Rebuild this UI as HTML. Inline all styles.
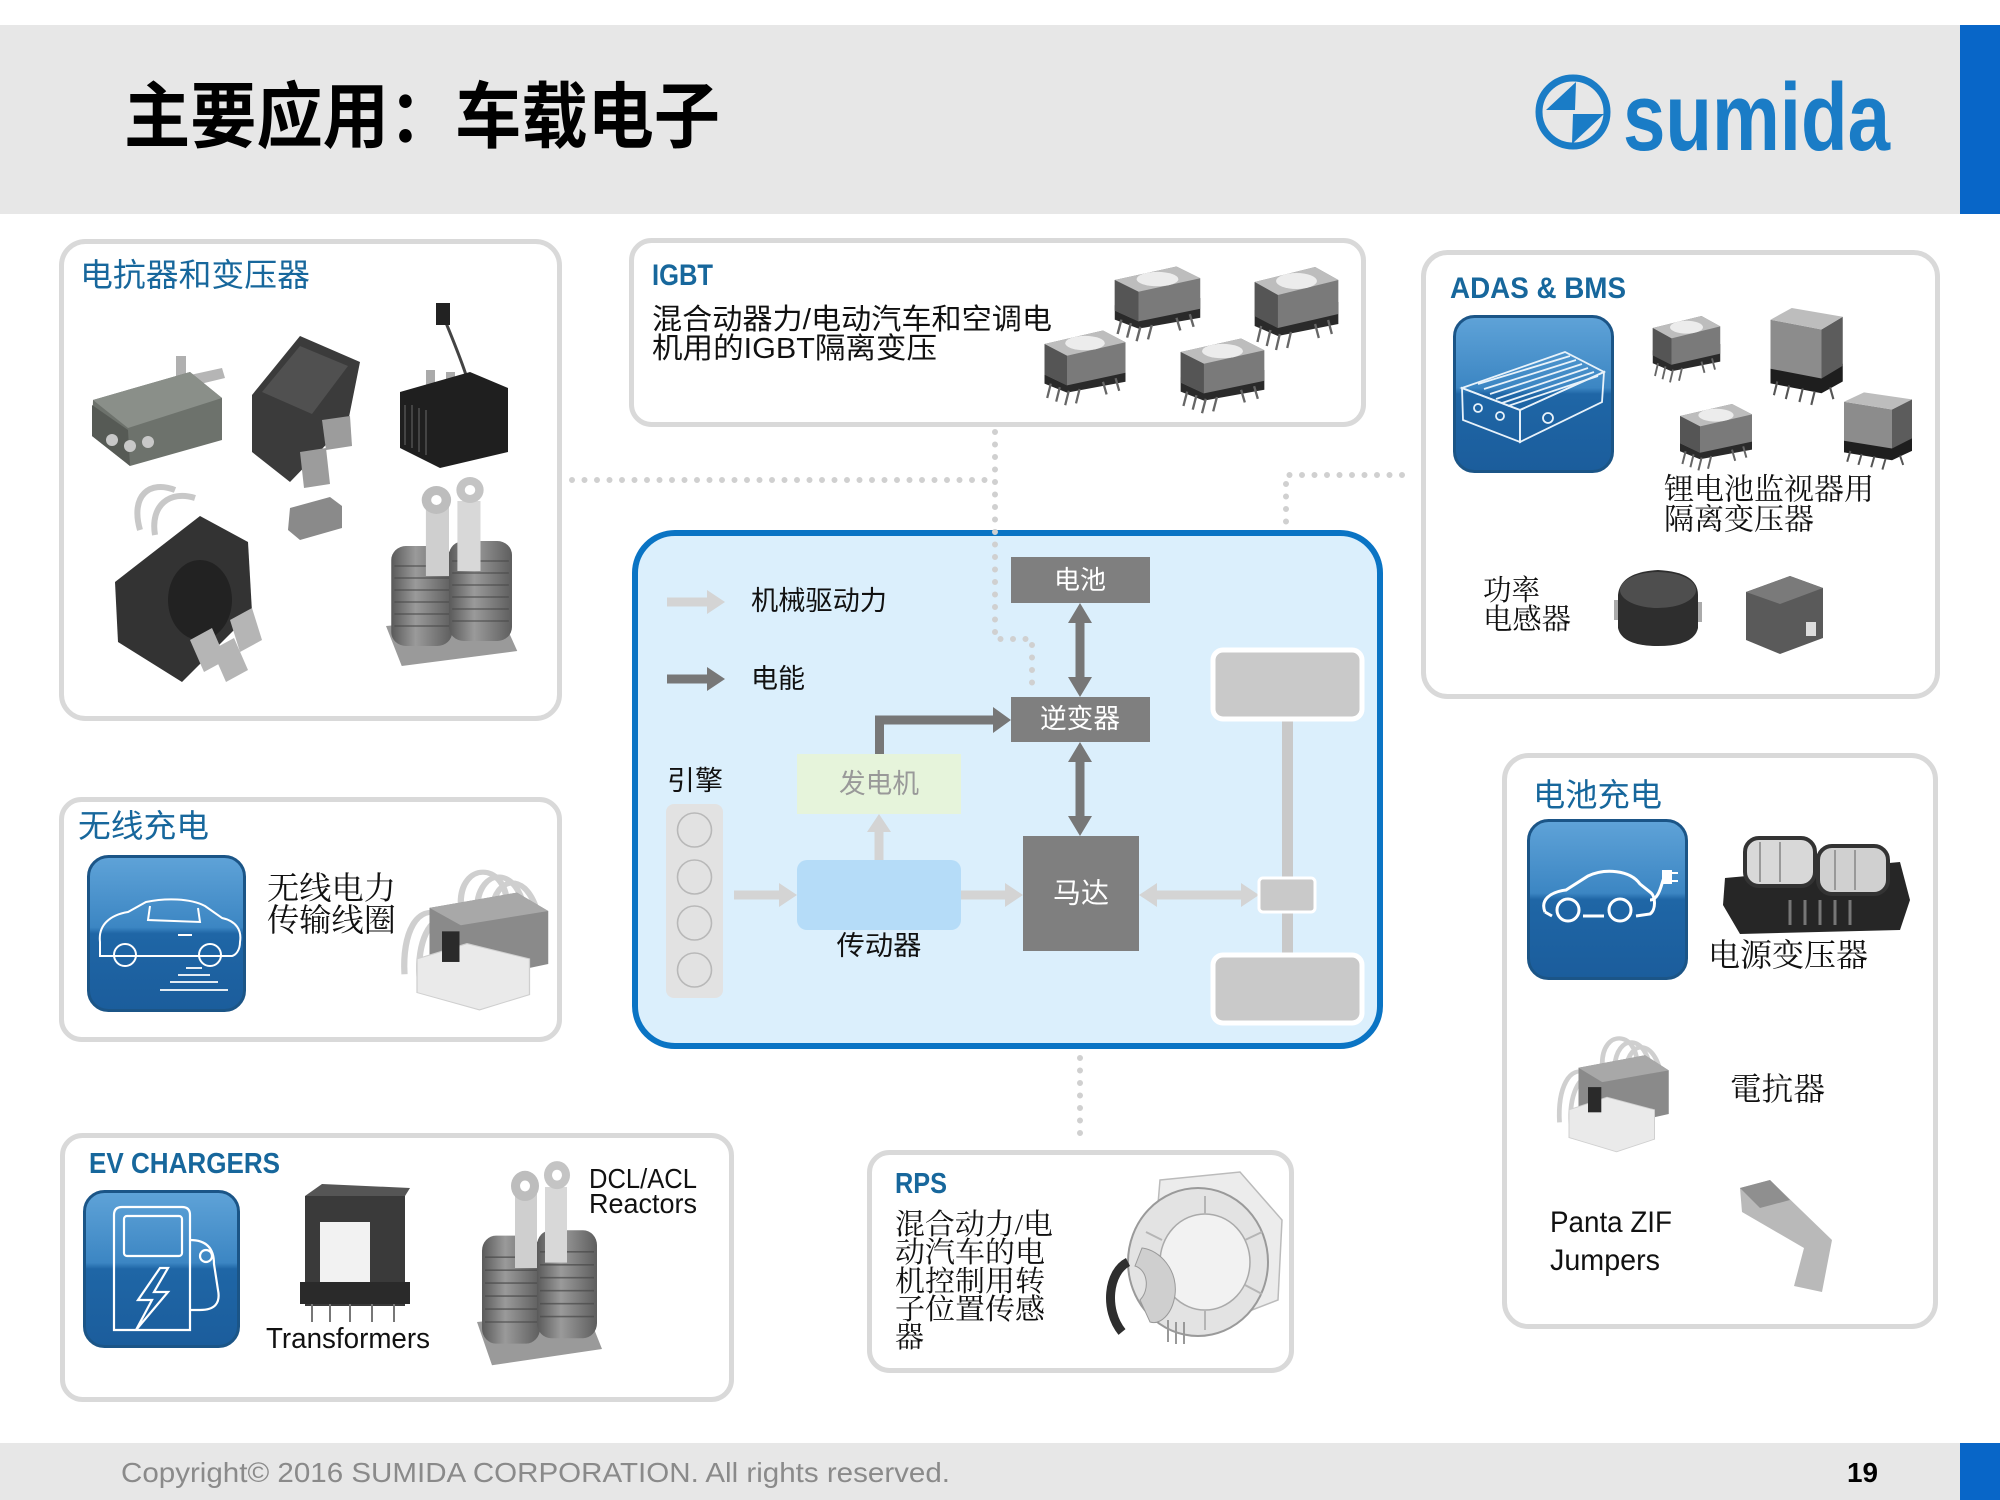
<!DOCTYPE html>
<html><head><meta charset="utf-8">
<style>
html,body{margin:0;padding:0;background:#fff;}
svg{display:block;}
.cj{font-family:"Liberation Sans","Noto Sans CJK SC",sans-serif;}
.cs{font-family:"Liberation Serif","Noto Serif CJK SC",serif;}
.lat{font-family:"Liberation Sans",sans-serif;}
</style></head>
<body>
<svg width="2000" height="1500" viewBox="0 0 2000 1500" xmlns="http://www.w3.org/2000/svg">
<defs>
  <linearGradient id="ib" x1="0" y1="0" x2="0" y2="1">
    <stop offset="0" stop-color="#5fa3d8"/>
    <stop offset="0.46" stop-color="#3c86c3"/>
    <stop offset="0.5" stop-color="#1f66a6"/>
    <stop offset="1" stop-color="#1b5d9c"/>
  </linearGradient>
  <linearGradient id="met" x1="0" y1="0" x2="1" y2="0">
    <stop offset="0" stop-color="#5a5a5a"/>
    <stop offset="0.4" stop-color="#9a9a9a"/>
    <stop offset="1" stop-color="#5e5e5e"/>
  </linearGradient>
  <g id="xf">
    <polygon points="5,48 95,40 95,62 30,74 5,64" fill="#2a2a2a"/>
    <polygon points="5,20 70,5 95,18 95,52 30,66 5,54" fill="#7a7a7a"/>
    <polygon points="5,20 70,5 95,18 30,33" fill="#bdbdbd"/>
    <ellipse cx="50" cy="19" rx="22" ry="8" fill="#ececec"/>
    <polygon points="5,20 30,33 30,66 5,54" fill="#555"/>
    <g stroke="#666" stroke-width="2.5">
      <line x1="12" y1="64" x2="8" y2="80"/><line x1="22" y1="68" x2="18" y2="84"/><line x1="32" y1="72" x2="28" y2="88"/><line x1="44" y1="70" x2="40" y2="86"/>
      <line x1="70" y1="62" x2="74" y2="76"/><line x1="84" y1="58" x2="88" y2="72"/>
    </g>
  </g>
  <g id="cube">
    <polygon points="10,60 10,80 70,90 95,78 95,60" fill="#1e1e1e"/>
    <polygon points="10,15 70,25 70,75 10,65" fill="#8c8c8c"/>
    <polygon points="70,25 95,12 95,62 70,75" fill="#5c5c5c"/>
    <polygon points="10,15 35,3 95,12 70,25" fill="#bdbdbd"/>
    <g stroke="#555" stroke-width="2.5">
      <line x1="18" y1="78" x2="14" y2="92"/><line x1="32" y1="82" x2="28" y2="96"/><line x1="48" y1="85" x2="44" y2="99"/><line x1="62" y1="88" x2="58" y2="102"/>
      <line x1="80" y1="84" x2="84" y2="96"/>
    </g>
  </g>
  <g id="coilx">
    <g fill="none" stroke="#cfcfcf" stroke-width="5">
      <path d="M55,40 C55,0 90,0 92,40"/>
      <path d="M68,44 C70,4 102,4 106,50"/>
      <path d="M80,46 C84,10 112,10 118,60"/>
      <path d="M40,52 C20,40 8,70 10,110"/>
      <path d="M46,56 C30,50 20,80 22,112"/>
    </g>
    <polygon points="30,45 100,30 125,48 125,100 55,118 30,100" fill="#8a8a8a"/>
    <polygon points="30,45 100,30 125,48 55,62" fill="#a8a8a8"/>
    <polygon points="20,95 60,80 110,95 110,130 70,145 20,128" fill="#eaeaea" stroke="#cfcfcf"/>
    <rect x="40" y="68" width="14" height="30" fill="#2a2a2a"/>
  </g>
  <g id="reactor">
    <polygon points="0,150 110,140 125,175 15,190" fill="#9a9a9a"/>
    <rect x="5" y="70" width="58" height="100" rx="14" fill="url(#met)"/>
    <rect x="60" y="65" width="60" height="100" rx="14" fill="url(#met)"/>
    <g stroke="#4a4a4a" stroke-width="1.5" opacity="0.7">
      <line x1="8" y1="90" x2="60" y2="90"/><line x1="8" y1="102" x2="60" y2="102"/><line x1="8" y1="114" x2="60" y2="114"/><line x1="8" y1="126" x2="60" y2="126"/><line x1="8" y1="138" x2="60" y2="138"/><line x1="8" y1="150" x2="60" y2="150"/>
      <line x1="63" y1="85" x2="117" y2="85"/><line x1="63" y1="97" x2="117" y2="97"/><line x1="63" y1="109" x2="117" y2="109"/><line x1="63" y1="121" x2="117" y2="121"/><line x1="63" y1="133" x2="117" y2="133"/><line x1="63" y1="145" x2="117" y2="145"/>
    </g>
    <rect x="38" y="30" width="22" height="70" fill="#cfcfcf"/>
    <rect x="68" y="25" width="22" height="70" fill="#d8d8d8"/>
    <circle cx="48" cy="24" r="14" fill="#bdbdbd"/><circle cx="48" cy="24" r="5" fill="#fff"/>
    <circle cx="80" cy="14" r="13" fill="#c4c4c4"/><circle cx="80" cy="14" r="5" fill="#fff"/>
  </g>
</defs>

<!-- header -->
<rect x="0" y="25" width="2000" height="189" fill="#e7e7e7"/>
<rect x="1960" y="25" width="40" height="189" fill="#0866c8"/>
<text x="124" y="118" dominant-baseline="central" class="cj" font-size="72" font-weight="700" textLength="596" lengthAdjust="spacingAndGlyphs" fill="#000">主要应用：车载电子</text>
<circle cx="1573" cy="112" r="34" fill="none" stroke="#1a7cc6" stroke-width="7"/>
<polygon points="1546,110 1576,82 1575,110" fill="#1a7cc6"/>
<polygon points="1573,114 1604,114 1572,144" fill="#1a7cc6"/>
<text x="1623" y="150" class="lat" font-size="96" font-weight="700" textLength="267" lengthAdjust="spacingAndGlyphs" fill="#1a7cc6">sumida</text>

<!-- footer -->
<rect x="0" y="1443" width="2000" height="57" fill="#e7e7e7"/>
<rect x="1960" y="1443" width="40" height="57" fill="#0866c8"/>
<text x="121" y="1482" class="lat" font-size="28" textLength="829" lengthAdjust="spacingAndGlyphs" fill="#8a8a8a">Copyright© 2016 SUMIDA CORPORATION. All rights reserved.</text>
<text x="1847" y="1482" class="lat" font-size="28" font-weight="700" textLength="31" lengthAdjust="spacingAndGlyphs" fill="#000">19</text>

<!-- dotted connectors -->
<g fill="none" stroke="#d0d0d0" stroke-width="6" stroke-linecap="round" stroke-dasharray="0 12.5">
  <path d="M572,480 H995"/>
  <path d="M995,432 V639 H1032 V688"/>
  <path d="M1156,579 H1286 V475 H1412"/>
  <path d="M1080,958 V1145"/>
</g>

<!-- panel 1 -->
<rect x="61.5" y="241.5" width="498" height="477" rx="24" fill="#fff" stroke="#d9d9d9" stroke-width="5"/>
<text x="80" y="275" dominant-baseline="central" class="cj" font-size="32" textLength="230" lengthAdjust="spacingAndGlyphs" fill="#17679c">电抗器和变压器</text>
<!-- A -->
<rect x="176" y="356" width="10" height="36" fill="#b0b0b0"/>
<polygon points="190,375 222,368 225,378 192,386" fill="#b5b5b5"/>
<polygon points="93,400 190,372 222,398 222,440 130,466 92,436" fill="#6d726c"/>
<polygon points="93,400 190,372 222,398 128,428" fill="#8a8f89"/>
<polygon points="92,405 128,430 130,466 92,436" fill="#565a55"/>
<circle cx="112" cy="440" r="6" fill="#c8c8c8"/><circle cx="130" cy="446" r="6" fill="#c8c8c8"/><circle cx="148" cy="442" r="6" fill="#c8c8c8"/>
<!-- B -->
<polygon points="252,395 300,336 360,362 348,422 290,482 252,452" fill="#3b3b3b"/>
<polygon points="262,392 300,346 348,366 312,414" fill="#505050"/>
<polygon points="322,420 350,416 352,446 326,450" fill="#9c9c9c"/>
<polygon points="300,452 326,448 330,484 304,488" fill="#9c9c9c"/>
<!-- C -->
<path d="M478,418 C470,380 455,345 444,318" stroke="#444" stroke-width="3" fill="none"/>
<rect x="436" y="303" width="14" height="22" fill="#222"/>
<rect x="426" y="370" width="9" height="24" fill="#aaa"/><rect x="446" y="372" width="9" height="24" fill="#aaa"/>
<polygon points="400,392 470,372 508,388 508,452 440,468 400,448" fill="#1f1f1f"/>
<g stroke="#444" stroke-width="2"><line x1="405" y1="405" x2="405" y2="445"/><line x1="412" y1="405" x2="412" y2="448"/><line x1="419" y1="408" x2="419" y2="452"/><line x1="426" y1="410" x2="426" y2="455"/></g>
<!-- small -->
<polygon points="290,508 330,497 342,506 342,528 300,540 288,530" fill="#8a8a8a"/>
<!-- D -->
<g fill="none" stroke="#c8c8c8" stroke-width="6"><path d="M140,530 C130,495 150,480 175,490"/><path d="M155,535 C150,505 170,490 195,498"/></g>
<polygon points="115,582 200,516 248,542 252,612 182,682 118,642" fill="#333"/>
<ellipse cx="200" cy="600" rx="32" ry="40" fill="#222"/>
<polygon points="190,640 212,628 226,660 204,672" fill="#b5b5b5"/>
<polygon points="212,650 234,638 248,670 226,682" fill="#b5b5b5"/>
<polygon points="230,620 252,608 262,640 240,652" fill="#b5b5b5"/>
<!-- E -->
<use href="#reactor" transform="translate(386,476) scale(1.05,1.0)"/>

<!-- IGBT panel -->
<rect x="631.5" y="240.5" width="732" height="184" rx="20" fill="#fff" stroke="#d9d9d9" stroke-width="5"/>
<text x="652" y="285" class="lat" font-size="30" font-weight="700" textLength="61" lengthAdjust="spacingAndGlyphs" fill="#17679c">IGBT</text>
<text x="652" y="320" dominant-baseline="central" class="cj" font-size="29" textLength="400" lengthAdjust="spacingAndGlyphs" fill="#111">混合动器力/电动汽车和空调电</text>
<text x="652" y="349" dominant-baseline="central" class="cj" font-size="29" textLength="285" lengthAdjust="spacingAndGlyphs" fill="#111">机用的IGBT隔离变压</text>
<use href="#xf" transform="translate(1110,262) scale(0.95,0.9)"/>
<use href="#xf" transform="translate(1250,262) scale(0.93,1.0)"/>
<use href="#xf" transform="translate(1040,326) scale(0.9,0.9)"/>
<use href="#xf" transform="translate(1176,334) scale(0.93,0.9)"/>

<!-- ADAS panel -->
<rect x="1423.5" y="252.5" width="514" height="444" rx="24" fill="#fff" stroke="#d9d9d9" stroke-width="5"/>
<text x="1450" y="298" class="lat" font-size="30" font-weight="700" textLength="176" lengthAdjust="spacingAndGlyphs" fill="#17679c">ADAS &amp; BMS</text>
<rect x="1454.5" y="316.5" width="158" height="155" rx="20" fill="url(#ib)" stroke="#1b5587" stroke-width="3"/>
<g fill="none" stroke="#e8f2fa" stroke-width="1.8">
  <polygon points="1462,388 1565,352 1604,372 1520,410"/>
  <polygon points="1462,388 1520,410 1520,442 1463,420"/>
  <polygon points="1520,410 1604,372 1602,402 1520,442"/>
  <path d="M1478,384 L1570,356 M1484,389 L1576,360 M1490,394 L1582,364 M1496,399 L1588,368 M1502,403 L1594,372 M1508,406 L1598,376"/>
  <circle cx="1478" cy="408" r="4"/><circle cx="1500" cy="416" r="4"/><circle cx="1548" cy="418" r="5"/>
</g>
<use href="#xf" transform="translate(1649,312) scale(0.75,0.8)"/>
<use href="#cube" transform="translate(1762,305) scale(0.85,0.98)"/>
<use href="#xf" transform="translate(1676,400) scale(0.8,0.8)"/>
<use href="#cube" transform="translate(1836,390) scale(0.8,0.78)"/>
<text x="1664" y="490" dominant-baseline="central" class="cs" font-size="30" textLength="210" lengthAdjust="spacingAndGlyphs" fill="#111">锂电池监视器用</text>
<text x="1664" y="520" dominant-baseline="central" class="cs" font-size="30" textLength="150" lengthAdjust="spacingAndGlyphs" fill="#111">隔离变压器</text>
<text x="1483" y="591" dominant-baseline="central" class="cs" font-size="29" textLength="57" lengthAdjust="spacingAndGlyphs" fill="#111">功率</text>
<text x="1483" y="620" dominant-baseline="central" class="cs" font-size="29" textLength="88" lengthAdjust="spacingAndGlyphs" fill="#111">电感器</text>
<rect x="1614" y="600" width="10" height="20" fill="#aaa"/><rect x="1692" y="602" width="10" height="20" fill="#aaa"/>
<path d="M1618,595 Q1620,572 1658,570 Q1698,572 1698,595 L1698,628 Q1694,646 1658,646 Q1622,646 1618,628 Z" fill="#2e2e2e"/>
<ellipse cx="1658" cy="590" rx="38" ry="18" fill="#4e4e4e"/>
<polygon points="1746,592 1790,576 1823,588 1823,638 1780,654 1746,640" fill="#5a5a5a"/>
<polygon points="1746,592 1790,576 1823,588 1780,604" fill="#7a7a7a"/>
<rect x="1806" y="622" width="10" height="14" fill="#ddd"/>

<!-- wireless panel -->
<rect x="61.5" y="799.5" width="498" height="240" rx="20" fill="#fff" stroke="#d9d9d9" stroke-width="5"/>
<text x="78" y="826" dominant-baseline="central" class="cj" font-size="32" textLength="131" lengthAdjust="spacingAndGlyphs" fill="#17679c">无线充电</text>
<rect x="88.5" y="856.5" width="156" height="154" rx="20" fill="url(#ib)" stroke="#1b5587" stroke-width="3"/>
<g fill="none" stroke="#fff" stroke-width="2">
  <path d="M100,942 C98,925 110,915 128,912 L146,902 C165,898 190,898 205,906 L222,918 C236,921 242,930 240,942 C240,950 236,955 232,956 L100,956 Z"/>
  <path d="M150,906 L148,920 L200,922 L198,908"/>
  <circle cx="125" cy="955" r="11"/><circle cx="210" cy="955" r="11"/>
  <path d="M178,935 h14"/>
</g>
<g stroke="#fff" stroke-width="1.8"><line x1="186" y1="968" x2="202" y2="968"/><line x1="178" y1="975" x2="210" y2="975"/><line x1="170" y1="982" x2="218" y2="982"/><line x1="160" y1="990" x2="228" y2="990"/></g>
<text x="267" y="888" dominant-baseline="central" class="cs" font-size="32" textLength="129" lengthAdjust="spacingAndGlyphs" fill="#111">无线电力</text>
<text x="267" y="920" dominant-baseline="central" class="cs" font-size="32" textLength="129" lengthAdjust="spacingAndGlyphs" fill="#111">传输线圈</text>
<use href="#coilx" transform="translate(392,862) scale(1.25,1.02)"/>

<!-- EV chargers -->
<rect x="62.5" y="1135.5" width="669" height="264" rx="20" fill="#fff" stroke="#d9d9d9" stroke-width="5"/>
<text x="89" y="1173" class="lat" font-size="29" font-weight="700" textLength="191" lengthAdjust="spacingAndGlyphs" fill="#17679c">EV CHARGERS</text>
<rect x="84.5" y="1191.5" width="154" height="155" rx="20" fill="url(#ib)" stroke="#1b5587" stroke-width="3"/>
<g fill="none" stroke="#fff" stroke-width="2.2">
  <path d="M114,1330 V1215 Q114,1207 122,1207 H182 Q190,1207 190,1215 V1330 Z"/>
  <rect x="124" y="1216" width="58" height="40" rx="3"/>
  <path d="M190,1240 Q214,1240 214,1264 L218,1290 Q222,1310 200,1310 L190,1310"/>
  <circle cx="206" cy="1256" r="6"/>
  <path d="M160,1268 L138,1300 L152,1300 L136,1330 L168,1292 L154,1292 L168,1268 Z"/>
</g>
<rect x="305" y="1196" width="100" height="110" fill="#3a3a3a"/>
<polygon points="305,1196 322,1184 410,1188 405,1196" fill="#555"/>
<rect x="320" y="1222" width="50" height="70" fill="#f2f2f2"/>
<rect x="300" y="1282" width="110" height="22" fill="#2a2a2a"/>
<g stroke="#777" stroke-width="2"><line x1="312" y1="1304" x2="312" y2="1322"/><line x1="330" y1="1304" x2="330" y2="1322"/><line x1="350" y1="1304" x2="350" y2="1322"/><line x1="372" y1="1304" x2="372" y2="1322"/><line x1="394" y1="1304" x2="394" y2="1322"/></g>
<text x="266" y="1348" class="lat" font-size="29" textLength="164" lengthAdjust="spacingAndGlyphs" fill="#111">Transformers</text>
<use href="#reactor" transform="translate(477,1160) scale(1.0,1.08)"/>
<text x="589" y="1188" class="lat" font-size="28" textLength="108" lengthAdjust="spacingAndGlyphs" fill="#111">DCL/ACL</text>
<text x="589" y="1213" class="lat" font-size="28" textLength="108" lengthAdjust="spacingAndGlyphs" fill="#111">Reactors</text>

<!-- RPS panel -->
<rect x="869.5" y="1152.5" width="422" height="218" rx="20" fill="#fff" stroke="#d9d9d9" stroke-width="5"/>
<text x="895" y="1193" class="lat" font-size="29" font-weight="700" textLength="52" lengthAdjust="spacingAndGlyphs" fill="#17679c">RPS</text>
<g class="cs" font-size="29" fill="#111" dominant-baseline="central">
  <text x="895" y="1225" textLength="158" lengthAdjust="spacingAndGlyphs">混合动力/电</text>
  <text x="895" y="1253" textLength="150" lengthAdjust="spacingAndGlyphs">动汽车的电</text>
  <text x="895" y="1282" textLength="150" lengthAdjust="spacingAndGlyphs">机控制用转</text>
  <text x="895" y="1310" textLength="150" lengthAdjust="spacingAndGlyphs">子位置传感</text>
  <text x="895" y="1338" textLength="29" lengthAdjust="spacingAndGlyphs">器</text>
</g>
<polygon points="1160,1180 1240,1172 1282,1220 1278,1300 1200,1330 1150,1300" fill="#ececec" stroke="#bbb" stroke-width="1.5"/>
<ellipse cx="1198" cy="1262" rx="70" ry="74" fill="#e3e3e3" stroke="#9a9a9a" stroke-width="2"/>
<ellipse cx="1205" cy="1262" rx="45" ry="48" fill="#f2f2f2" stroke="#aaa" stroke-width="1.5"/>
<g stroke="#b5b5b5" stroke-width="2"><line x1="1205" y1="1214" x2="1205" y2="1196"/><line x1="1245" y1="1240" x2="1262" y2="1232"/><line x1="1245" y1="1285" x2="1262" y2="1294"/><line x1="1205" y1="1310" x2="1205" y2="1330"/><line x1="1162" y1="1240" x2="1146" y2="1232"/></g>
<path d="M1142,1248 C1160,1250 1178,1270 1175,1295 C1172,1315 1160,1325 1150,1322 L1140,1300 C1150,1290 1148,1270 1135,1266 Z" fill="#cfcfcf" stroke="#999"/>
<path d="M1128,1262 C1108,1272 1104,1310 1122,1332" fill="none" stroke="#2e2e2e" stroke-width="9"/>
<g stroke="#999" stroke-width="2"><line x1="1168" y1="1320" x2="1168" y2="1342"/><line x1="1176" y1="1322" x2="1176" y2="1344"/><line x1="1184" y1="1322" x2="1184" y2="1344"/></g>

<!-- battery charging panel -->
<rect x="1504.5" y="755.5" width="431" height="571" rx="24" fill="#fff" stroke="#d9d9d9" stroke-width="5"/>
<text x="1533" y="795" dominant-baseline="central" class="cj" font-size="32" textLength="129" lengthAdjust="spacingAndGlyphs" fill="#17679c">电池充电</text>
<rect x="1528.5" y="820.5" width="158" height="158" rx="20" fill="url(#ib)" stroke="#1b5587" stroke-width="3"/>
<g fill="none" stroke="#fff" stroke-width="3">
  <path d="M1545,912 C1540,900 1550,892 1566,890 L1588,876 C1605,868 1630,870 1640,884 L1650,892 C1656,896 1656,910 1650,914 L1636,916 M1604,916 L1583,916 M1552,916 L1545,912"/>
  <circle cx="1568" cy="910" r="11"/><circle cx="1620" cy="910" r="11"/>
  <path d="M1650,900 C1660,900 1662,880 1664,878"/>
</g>
<rect x="1662" y="870" width="10" height="14" fill="#fff"/>
<g stroke="#fff" stroke-width="2"><line x1="1672" y1="873" x2="1678" y2="873"/><line x1="1672" y1="881" x2="1678" y2="881"/></g>
<polygon points="1725,878 1900,862 1910,900 1900,930 1740,934 1723,905" fill="#262626"/>
<rect x="1745" y="838" width="70" height="48" rx="14" fill="#d8d8d8" stroke="#333" stroke-width="4"/>
<rect x="1818" y="846" width="70" height="48" rx="14" fill="#d0d0d0" stroke="#333" stroke-width="4"/>
<g stroke="#999" stroke-width="2"><line x1="1760" y1="842" x2="1760" y2="882"/><line x1="1780" y1="842" x2="1780" y2="882"/><line x1="1835" y1="850" x2="1835" y2="890"/><line x1="1855" y1="850" x2="1855" y2="890"/></g>
<g stroke="#777" stroke-width="3"><line x1="1790" y1="900" x2="1790" y2="925"/><line x1="1805" y1="900" x2="1805" y2="925"/><line x1="1820" y1="900" x2="1820" y2="925"/><line x1="1835" y1="900" x2="1835" y2="925"/><line x1="1850" y1="900" x2="1850" y2="925"/></g>
<text x="1708" y="955" dominant-baseline="central" class="cs" font-size="32" textLength="160" lengthAdjust="spacingAndGlyphs" fill="#111">电源变压器</text>
<use href="#coilx" transform="translate(1550,1030) scale(0.95,0.84)"/>
<text x="1730" y="1089" dominant-baseline="central" class="cs" font-size="32" textLength="95" lengthAdjust="spacingAndGlyphs" fill="#111">電抗器</text>
<text x="1550" y="1232" class="lat" font-size="30" textLength="122" lengthAdjust="spacingAndGlyphs" fill="#111">Panta ZIF</text>
<text x="1550" y="1270" class="lat" font-size="30" textLength="110" lengthAdjust="spacingAndGlyphs" fill="#111">Jumpers</text>
<polygon points="1740,1188 1770,1180 1832,1240 1822,1292 1794,1286 1804,1248 1742,1212" fill="#b9b9b9"/>
<polygon points="1740,1188 1770,1180 1790,1200 1760,1208" fill="#8f8f8f"/>

<!-- central diagram -->
<rect x="635" y="533" width="745" height="513" rx="40" fill="#dbeffc" stroke="#0a74c4" stroke-width="6"/>
<g fill="none" stroke="#d0d0d0" stroke-width="6" stroke-linecap="round" stroke-dasharray="0 12.5">
  <path d="M995,532 V639 H1032 V688"/>
</g>
<!-- legend -->
<polygon points="667,597.5 707,597.5 707,590 725,602 707,614 707,606.5 667,606.5" fill="#d4d4d4"/>
<polygon points="667,674.5 707,674.5 707,667 725,679 707,691 707,683.5 667,683.5" fill="#777"/>
<text x="751" y="601" dominant-baseline="central" class="cj" font-size="27" textLength="136" lengthAdjust="spacingAndGlyphs" fill="#111">机械驱动力</text>
<text x="751" y="679" dominant-baseline="central" class="cj" font-size="27" textLength="54" lengthAdjust="spacingAndGlyphs" fill="#111">电能</text>
<!-- engine -->
<text x="667" y="781" dominant-baseline="central" class="cj" font-size="27" textLength="56" lengthAdjust="spacingAndGlyphs" fill="#111">引擎</text>
<rect x="666" y="804" width="57" height="194" rx="8" fill="#e2e2e2"/>
<g fill="none" stroke="#b8b8b8" stroke-width="1.6">
  <circle cx="694.5" cy="830" r="17"/><circle cx="694.5" cy="877" r="17"/><circle cx="694.5" cy="923" r="17"/><circle cx="694.5" cy="970" r="17"/>
</g>
<!-- light arrows -->
<g fill="#d4d4d4">
  <polygon points="734,890.5 779,890.5 779,883 797,895 779,907 779,899.5 734,899.5"/>
  <polygon points="961,890.5 1005,890.5 1005,883 1023,895 1005,907 1005,899.5 961,899.5"/>
  <polygon points="1139,895 1157,883 1157,890.5 1241,890.5 1241,883 1259,895 1241,907 1241,899.5 1157,899.5 1157,907"/>
  <polygon points="874.5,860 874.5,832 867,832 879,814 891,832 883.5,832 883.5,860"/>
</g>
<!-- wheels -->
<rect x="1282" y="719" width="11" height="236" fill="#c9c9c9"/>
<rect x="1213" y="650" width="149" height="69" rx="10" fill="#c9c9c9" stroke="#fff" stroke-width="5"/>
<rect x="1213" y="955" width="149" height="68" rx="10" fill="#c9c9c9" stroke="#fff" stroke-width="5"/>
<rect x="1259" y="878" width="56" height="34" rx="4" fill="#c9c9c9" stroke="#fff" stroke-width="3"/>
<!-- boxes -->
<rect x="797" y="754" width="164" height="60" fill="#e6f4db"/>
<text x="879" y="784" text-anchor="middle" dominant-baseline="central" class="cj" font-size="27" textLength="80" lengthAdjust="spacingAndGlyphs" fill="#999">发电机</text>
<rect x="797" y="860" width="164" height="70" rx="10" fill="#b5dcf8"/>
<text x="879" y="946" text-anchor="middle" dominant-baseline="central" class="cj" font-size="27" textLength="85" lengthAdjust="spacingAndGlyphs" fill="#111">传动器</text>
<rect x="1011" y="557" width="139" height="46" fill="#7f7f7f"/>
<text x="1080" y="580" text-anchor="middle" dominant-baseline="central" class="cj" font-size="26" textLength="52" lengthAdjust="spacingAndGlyphs" fill="#fff">电池</text>
<rect x="1011" y="697" width="139" height="45" fill="#7f7f7f"/>
<text x="1080" y="719" text-anchor="middle" dominant-baseline="central" class="cj" font-size="27" textLength="80" lengthAdjust="spacingAndGlyphs" fill="#fff">逆变器</text>
<rect x="1023" y="836" width="116" height="115" fill="#7f7f7f"/>
<text x="1081" y="893" text-anchor="middle" dominant-baseline="central" class="cj" font-size="28" textLength="56" lengthAdjust="spacingAndGlyphs" fill="#fff">马达</text>
<!-- dark arrows -->
<g fill="#777">
  <polygon points="1080,603 1092,623 1084.5,623 1084.5,677 1092,677 1080,697 1068,677 1075.5,677 1075.5,623 1068,623"/>
  <polygon points="1080,742 1092,762 1084.5,762 1084.5,816 1092,816 1080,836 1068,816 1075.5,816 1075.5,762 1068,762"/>
  <polygon points="875,754 875,715.5 993,715.5 993,707 1011,720 993,733 993,724.5 884,724.5 884,754"/>
</g>
</svg>
</body></html>
